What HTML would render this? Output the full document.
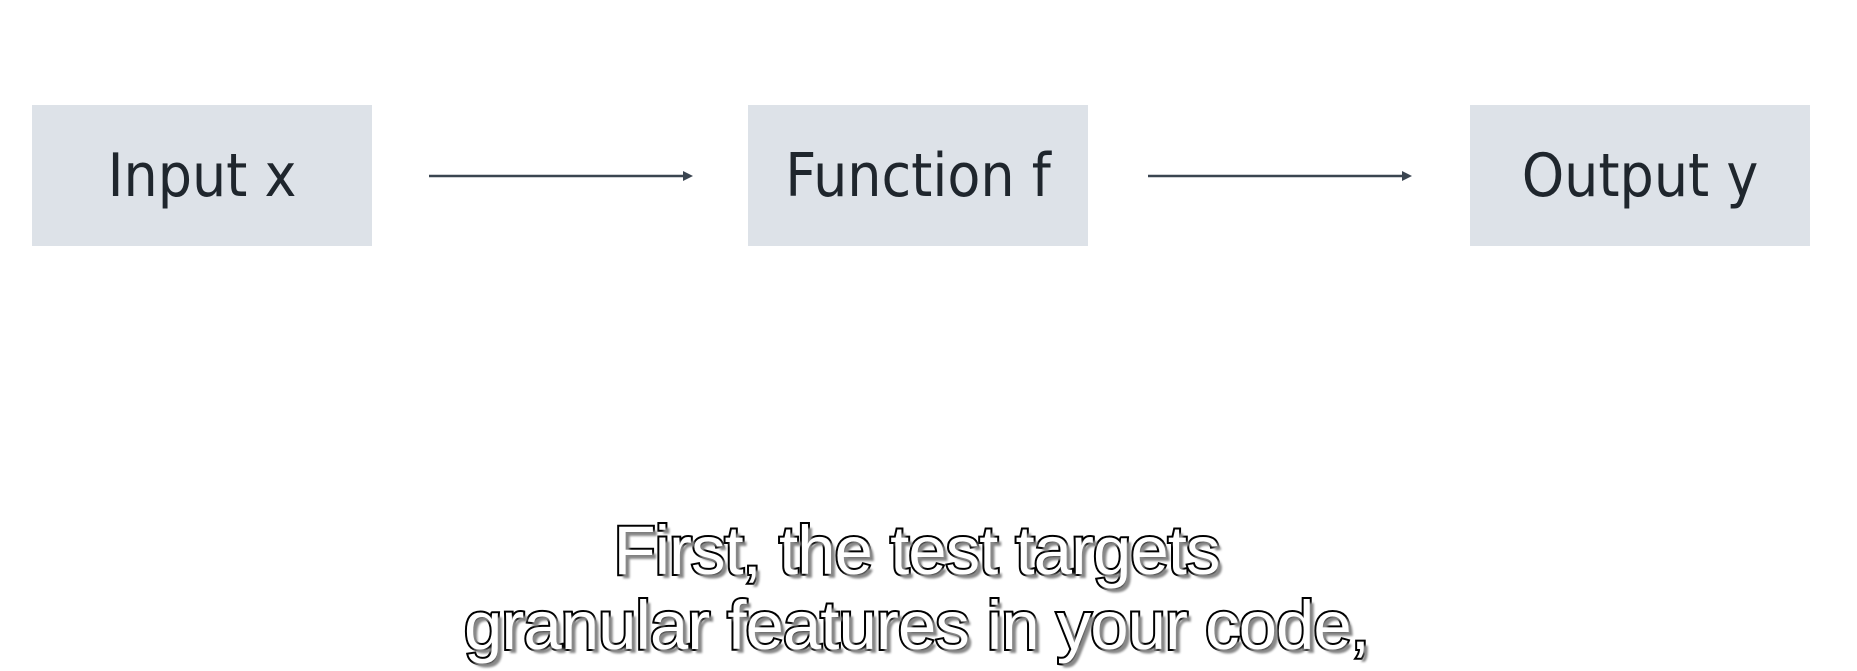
<!DOCTYPE html>
<html><head><style>
html,body{margin:0;padding:0;width:1857px;height:671px;background:#fff;overflow:hidden;position:relative;font-family:"Liberation Sans",sans-serif}
.box{position:absolute;top:105px;height:141px;background:#dde2e8;display:flex;align-items:center;justify-content:center;font-size:60px;color:#1f262d;font-family:"DejaVu Sans Condensed","DejaVu Sans","Liberation Sans",sans-serif}
.sub{position:absolute;left:-12px;width:1857px;text-align:center;font-size:69px;color:#fff;-webkit-text-stroke:4px #000;paint-order:stroke fill;text-shadow:4px 4px 2px #888;letter-spacing:-1px}
</style></head><body>
<div class="box" style="left:32px;width:340px">Input x</div>
<div class="box" style="left:748px;width:340px">Function f</div>
<div class="box" style="left:1470px;width:340px">Output y</div>
<svg width="1857" height="671" style="position:absolute;left:0;top:0">
<line x1="429" y1="176" x2="687" y2="176" stroke="#3a4550" stroke-width="2.5"/>
<polygon points="693,176 683,171 683,181" fill="#3a4550"/>
<line x1="1148" y1="176" x2="1406" y2="176" stroke="#3a4550" stroke-width="2.5"/>
<polygon points="1412,176 1402,171 1402,181" fill="#3a4550"/>
</svg>
<div class="sub" style="top:511px">First, the test targets</div>
<div class="sub" style="top:586px">granular features in your code,</div>
</body></html>
